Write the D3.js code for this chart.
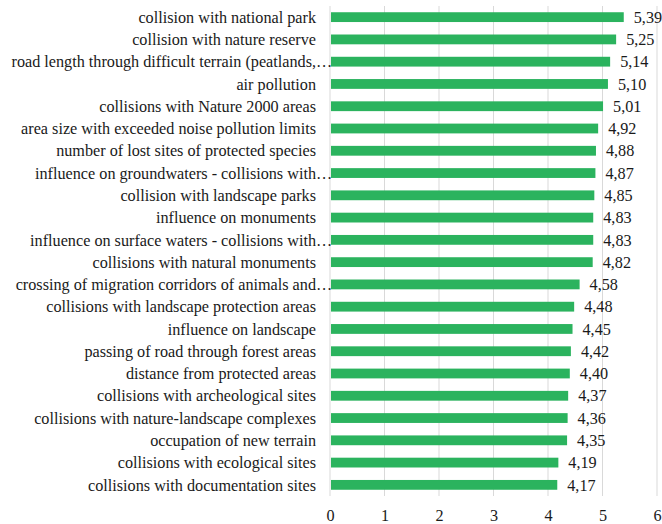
<!DOCTYPE html>
<html><head><meta charset="utf-8">
<script src="https://cdn.jsdelivr.net/npm/d3@7"></script>
<style>body{margin:0;background:#fff}svg{display:block}
svg text{font-family:"Liberation Serif",Tinos,"Times New Roman",Times,serif;font-size:16.2px;fill:#1a1a1a}</style>
</head><body>
<script>
const categories = [
"collision with national park",
"collision with nature reserve",
"road length through difficult terrain (peatlands,…",
"air pollution",
"collisions with Nature 2000 areas",
"area size with exceeded noise pollution limits",
"number of lost sites of protected species",
"influence on groundwaters - collisions with…",
"collision with landscape parks",
"influence on monuments",
"influence on surface waters - collisions with…",
"collisions with natural monuments",
"crossing of migration corridors of animals and…",
"collisions with landscape protection areas",
"influence on landscape",
"passing of road through forest areas",
"distance from protected areas",
"collisions with archeological sites",
"collisions with nature-landscape complexes",
"occupation of new terrain",
"collisions with ecological sites",
"collisions with documentation sites"
];
const values = [5.39,5.25,5.14,5.10,5.01,4.92,4.88,4.87,4.85,4.83,4.83,4.82,4.58,4.48,4.45,4.42,4.40,4.37,4.36,4.35,4.19,4.17];
const xTicks = [0,1,2,3,4,5,6];

const W=662,H=524;
const m={left:330,right:5,top:6,bottom:28};
const svg=d3.select("body").append("svg").attr("width",W).attr("height",H);
const x=d3.scaleLinear().domain([0,6]).range([m.left,W-m.right]);
const y=d3.scaleBand().domain(categories).range([m.top,H-m.bottom]).paddingInner(0.56).paddingOuter(0.28);

svg.append("g").selectAll("line").data(xTicks).join("line")
 .attr("x1",d=>x(d)).attr("x2",d=>x(d)).attr("y1",m.top).attr("y2",H-m.bottom)
 .attr("stroke","#d9d9d9").attr("stroke-width",1);

svg.append("g").selectAll("rect").data(values).join("rect")
 .attr("x",x(0)+1).attr("y",(d,i)=>y(categories[i]))
 .attr("width",d=>x(d)-x(0)-1).attr("height",y.bandwidth())
 .attr("fill","#2bb35e");

svg.append("g").selectAll("text").data(values).join("text")
 .attr("x",d=>x(d)+10).attr("y",(d,i)=>y(categories[i])+y.bandwidth()/2)
 .attr("dy","0.35em")
 .text(d=>d.toFixed(2).replace(".",","));

const lab=svg.append("g").selectAll("g").data(categories).join("g")
 .attr("transform",d=>`translate(316,${y(d)+y.bandwidth()/2})`);
lab.append("text").attr("dy","0.35em").attr("text-anchor","end")
 .text(d=>d.endsWith("…")?d.slice(0,-1):d);
lab.filter(d=>d.endsWith("…")).append("text").attr("dy","0.35em").attr("x",0)
 .text("…");

const ax=svg.append("g").attr("transform",`translate(0,${H-m.bottom})`)
 .call(d3.axisBottom(x).tickValues(xTicks).tickSize(0).tickPadding(13).tickFormat(d3.format("d")));
ax.select(".domain").remove();
ax.attr("font-family",null).attr("font-size",null);
</script>
</body></html>
